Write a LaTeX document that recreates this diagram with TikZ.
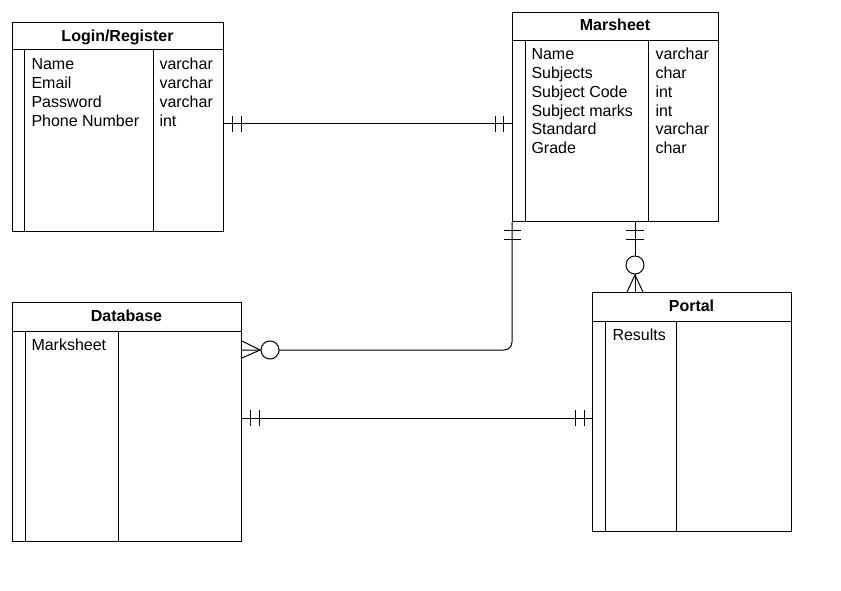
\documentclass[tikz,border=0pt]{standalone}
\usepackage{fontspec}
\setmainfont{Liberation Sans}
\usetikzlibrary{calc}
\begin{document}
\begin{tikzpicture}[x=1pt,y=-1pt, line width=1pt,
  tbl/.style={draw, inner sep=0pt, anchor=north west, fill=white},
  hdr/.style={font=\bfseries\fontsize{16}{19}\selectfont, anchor=base, inner sep=0pt},
  fld/.style={font=\fontsize{16}{19}\selectfont, anchor=base west, inner sep=0pt},
  conn/.style={draw, line width=1pt},
  ring/.style={circle, draw, fill=white, minimum size=18pt, inner sep=0pt}]
\useasboundingbox[fill=white] (0,0) rectangle (841,591);

% ---------- Login/Register ----------
\node[tbl, minimum width=211pt, minimum height=209pt] (login) at (12,22) {};
\draw ($(login.north west)+(0,28)$) -- ($(login.north east)+(0,28)$);
\draw ($(login.north west)+(12.5,28)$) -- ($(login.south west)+(12.5,0)$);
\draw ($(login.north west)+(141,28)$) -- ($(login.south west)+(141,0)$);
\node[hdr] (login-h) at (117.5,41.7) {Login/Register};
\foreach \t/\ty [count=\i] in {Name/varchar, Email/varchar, Password/varchar, Phone Number/int}{
  \node[fld] (login-f\i) at (31,{70+18.7*(\i-1)}) {\t};
  \node[fld] (login-t\i) at (159,{70+18.7*(\i-1)}) {\ty};
}

% ---------- Marsheet ----------
\node[tbl, minimum width=206pt, minimum height=209pt] (mars) at (512,12) {};
\draw ($(mars.north west)+(0,29)$) -- ($(mars.north east)+(0,29)$);
\draw ($(mars.north west)+(13,29)$) -- ($(mars.south west)+(13,0)$);
\draw ($(mars.north west)+(136,29)$) -- ($(mars.south west)+(136,0)$);
\node[hdr] (mars-h) at (615,31) {Marsheet};
\foreach \t/\ty [count=\i] in {Name/varchar, Subjects/char, Subject Code/int, Subject marks/int, Standard/varchar, Grade/char}{
  \node[fld] (mars-f\i) at (531,{60+18.7*(\i-1)}) {\t};
  \node[fld] (mars-t\i) at (655,{60+18.7*(\i-1)}) {\ty};
}

% ---------- Database ----------
\node[tbl, minimum width=229pt, minimum height=239pt] (db) at (12,302) {};
\draw ($(db.north west)+(0,29)$) -- ($(db.north east)+(0,29)$);
\draw ($(db.north west)+(13,29)$) -- ($(db.south west)+(13,0)$);
\draw ($(db.north west)+(106,29)$) -- ($(db.south west)+(106,0)$);
\node[hdr] (db-h) at (126.5,321) {Database};
\node[fld] (db-f1) at (31,350) {Marksheet};

% ---------- Portal ----------
\node[tbl, minimum width=199pt, minimum height=239pt] (portal) at (592,292) {};
\draw ($(portal.north west)+(0,29)$) -- ($(portal.north east)+(0,29)$);
\draw ($(portal.north west)+(13,29)$) -- ($(portal.south west)+(13,0)$);
\draw ($(portal.north west)+(84,29)$) -- ($(portal.south west)+(84,0)$);
\node[hdr] (portal-h) at (691.5,311) {Portal};
\node[fld] (portal-f1) at (612,340) {Results};

% ---------- Login -- Marsheet (one and only one both ends) ----------
\coordinate (a1) at ($(login.north east)+(0,102)$);
\coordinate (a2) at ($(mars.north west)+(0,112)$);
\draw[conn] (a1) -- (a2);
\draw ($(a1)+(8,-8)$) -- ++(0,16);
\draw ($(a1)+(17,-8)$) -- ++(0,16);
\draw ($(a2)+(-17,-8)$) -- ++(0,16);
\draw ($(a2)+(-9,-8)$) -- ++(0,16);

% ---------- Marsheet -- Database (one / zero or many) ----------
\coordinate (b1) at (mars.south west);
\coordinate (b2) at ($(db.north east)+(0,48)$);
\draw[conn, rounded corners=8pt] (b1) -- (b1 |- b2) -- (b2);
\draw ($(b1)+(-8,8)$) -- ++(17,0);
\draw ($(b1)+(-8,17)$) -- ++(17,0);
\draw ($(b2)+(0,-9)$) -- ($(b2)+(18,0)$) -- ($(b2)+(0,8)$);
\node[ring] (b-ring) at ($(b2)+(28,0)$) {};

% ---------- Marsheet -- Portal (one / zero or many) ----------
\coordinate (c1) at ($(mars.south west)+(123,0)$);
\coordinate (c2) at ($(portal.north west)+(43,0)$);
\draw[conn] (c1) -- (c2);
\draw ($(c1)+(-9,8)$) -- ++(18,0);
\draw ($(c1)+(-9,17)$) -- ++(18,0);
\draw ($(c2)+(-8,0)$) -- ($(c2)+(0,-17)$) -- ($(c2)+(8,0)$);
\node[ring] (c-ring) at ($(c2)+(0,-27)$) {};

% ---------- Database -- Portal (one and only one both ends) ----------
\coordinate (d1) at ($(db.north east)+(0,116)$);
\coordinate (d2) at ($(portal.north west)+(0,126)$);
\draw[conn] (d1) -- (d2);
\draw ($(d1)+(8,-8)$) -- ++(0,16);
\draw ($(d1)+(17,-8)$) -- ++(0,16);
\draw ($(d2)+(-17,-8)$) -- ++(0,16);
\draw ($(d2)+(-8,-8)$) -- ++(0,16);
\end{tikzpicture}
\end{document}
